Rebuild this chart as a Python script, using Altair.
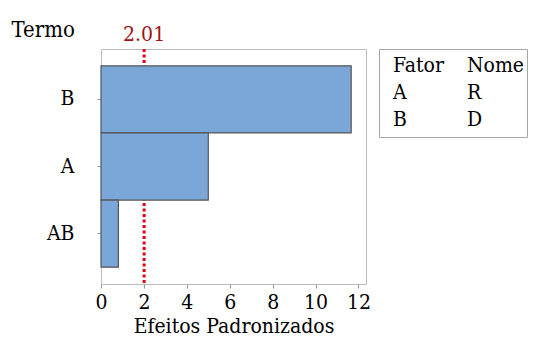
import altair as alt
import pandas as pd

# ---- data ----
terms = ["B", "A", "AB"]
effects = [11.66, 5.0, 0.81]
ref_value = [2.01]
ref_label = ["2.01"]
legend_header = ["Fator", "Nome"]
factors = ["A", "B"]
names = ["R", "D"]
x_ticks = [0, 2, 4, 6, 8, 10, 12]

FONT = "DejaVu Serif Condensed, DejaVu Serif"
FS = 21

bars_df = pd.DataFrame({"Termo": terms, "Efeito": effects})
ref_df = pd.DataFrame({"Efeito": ref_value, "label": ref_label})
legend_df = pd.DataFrame({
    "row": [0, 1, 2],
    "c1": [legend_header[0]] + factors,
    "c2": [legend_header[1]] + names,
})

x_scale = alt.Scale(domain=[0, 12.35], nice=False, zero=True)
y_scale = alt.Scale(domain=terms, paddingInner=0, paddingOuter=0.25)

x_axis = alt.Axis(
    title="Efeitos Padronizados", values=x_ticks, grid=False, domain=False,
    tickSize=4, tickColor="#999999", labelPadding=3, labelFlush=False,
    labelFont=FONT, labelFontSize=FS, labelColor="black",
    titleFont=FONT, titleFontSize=FS, titleFontWeight="normal",
    titleColor="black", titlePadding=3,
)
y_axis = alt.Axis(
    title="Termo", titleAngle=0, titleAlign="left", titleBaseline="alphabetic",
    titleX=-90, titleY=-13, titleFont=FONT, titleFontSize=22,
    titleFontWeight="normal", titleColor="black",
    labelFont=FONT, labelFontSize=FS, labelColor="black", labelPadding=23,
    tickSize=4, tickColor="#999999", domain=False, grid=False,
)

rule = alt.Chart(ref_df).mark_rule(
    color="#e3000f", strokeWidth=3, strokeDash=[3, 2.5]
).encode(x=alt.X("Efeito:Q", scale=x_scale, axis=x_axis))

bars = alt.Chart(bars_df).mark_bar(
    fill="#7ba7d8", stroke="#555555", strokeWidth=1.2
).encode(
    x=alt.X("Efeito:Q", scale=x_scale, axis=x_axis),
    y=alt.Y("Termo:N", scale=y_scale, sort=terms, axis=y_axis),
)

label = alt.Chart(ref_df).mark_text(
    color="#a01419", font=FONT, fontSize=FS, baseline="alphabetic", align="center"
).encode(
    x=alt.X("Efeito:Q", scale=x_scale, axis=x_axis),
    y=alt.value(-8),
    text="label:N",
)

main = alt.layer(rule, bars, label).properties(
    width=265, height=235,
    view=alt.ViewBackground(stroke="#bdbdbd"),
)

ly = alt.Y("row:O", scale=alt.Scale(type="point", padding=0.66), axis=None)
t1 = alt.Chart(legend_df).mark_text(
    align="left", baseline="middle", font=FONT, fontSize=FS, color="black"
).encode(x=alt.value(14), y=ly, text="c1:N")
t2 = alt.Chart(legend_df).mark_text(
    align="left", baseline="middle", font=FONT, fontSize=FS, color="black"
).encode(x=alt.value(88), y=ly, text="c2:N")

legend = alt.layer(t1, t2).properties(
    width=148, height=88,
    view=alt.ViewBackground(stroke="#a6a6a6"),
)

chart = alt.hconcat(main, legend, spacing=13, bounds="flush").properties(
    padding={"left": 2, "top": 9, "right": 0, "bottom": 0}
).configure_view(strokeWidth=1)

chart.save("out.html", embed_options={"renderer": "svg", "actions": False})
